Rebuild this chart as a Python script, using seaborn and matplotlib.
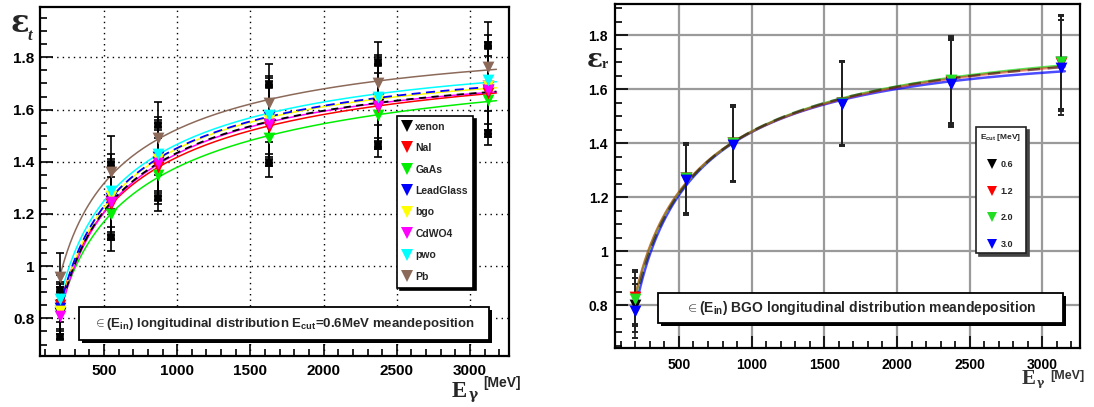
import numpy as np
import matplotlib
matplotlib.use("Agg")
import matplotlib.pyplot as plt
import seaborn as sns
from matplotlib.patches import Rectangle
from matplotlib.lines import Line2D
from matplotlib.ticker import MultipleLocator, FormatStrFormatter

# Photon energies (MeV)
energy = [200, 550, 870, 1625, 2370, 3125]

# Left panel: mean longitudinal deposition per material, E_cut = 0.6 MeV
materials = ["xenon", "NaI", "GaAs", "LeadGlass", "bgo", "CdWO4", "pwo", "Pb"]
material_colors = ["#000000", "#ff0000", "#00ee00", "#0000ff",
                   "#ffff00", "#ff00ff", "#00ffff", "#8c6a5a"]
eps_xenon = [0.82, 1.25, 1.40, 1.545, 1.62, 1.675]
eps_nai = [0.85, 1.24, 1.38, 1.535, 1.61, 1.665]
eps_gaas = [0.83, 1.20, 1.35, 1.49, 1.58, 1.635]
eps_leadglass = [0.84, 1.26, 1.42, 1.57, 1.64, 1.69]
eps_bgo = [0.83, 1.27, 1.41, 1.56, 1.635, 1.69]
eps_cdwo4 = [0.81, 1.245, 1.395, 1.545, 1.615, 1.675]
eps_pwo = [0.875, 1.29, 1.43, 1.58, 1.65, 1.715]
eps_pb = [0.96, 1.36, 1.49, 1.625, 1.70, 1.765]
err_materials = [0.09, 0.14, 0.14, 0.15, 0.16, 0.17]

# Right panel: BGO for several cut energies
ecut_labels = ["0.6", "1.2", "2.0", "3.0"]
ecut_colors = ["#000000", "#ff0000", "#22dd22", "#0000ff"]
eps_bgo_06 = [0.80, 1.27, 1.40, 1.55, 1.625, 1.70]
eps_bgo_12 = [0.83, 1.27, 1.40, 1.55, 1.63, 1.695]
eps_bgo_20 = [0.825, 1.27, 1.40, 1.55, 1.635, 1.70]
eps_bgo_30 = [0.78, 1.265, 1.395, 1.545, 1.62, 1.68]
err_bgo = [0.10, 0.13, 0.14, 0.155, 0.16, 0.175]

material_values = [eps_xenon, eps_nai, eps_gaas, eps_leadglass,
                   eps_bgo, eps_cdwo4, eps_pwo, eps_pb]
bgo_values = [eps_bgo_06, eps_bgo_12, eps_bgo_20, eps_bgo_30]

sns.set_style("white")
plt.rcParams["font.family"] = ["Liberation Sans", "DejaVu Sans"]
plt.rcParams["font.weight"] = "bold"
plt.rcParams["mathtext.fontset"] = "custom"
plt.rcParams["mathtext.rm"] = "Liberation Sans:bold"
plt.rcParams["mathtext.it"] = "Liberation Sans:bold"
plt.rcParams["mathtext.bf"] = "Liberation Sans:bold"

W, H = 1094, 407
fig = plt.figure(figsize=(W / 100, H / 100), dpi=100)
fig.patch.set_facecolor("white")


def px_axes(x0, y0, x1, y1):
    return fig.add_axes([x0 / W, 1 - y1 / H, (x1 - x0) / W, (y1 - y0) / H])


def log_fit(x, y, x_end):
    lx = np.log(np.asarray(x, float))
    coef = np.polyfit(lx, y, 2)
    xs = np.geomspace(x[0], x_end, 200)
    return xs, np.polyval(coef, np.log(xs))


def style_axes(ax, xlim, ylim, grid_kw, fs_x, fs_y, xpad, ypad):
    ax.set_xlim(*xlim)
    ax.set_ylim(*ylim)
    ax.xaxis.set_major_locator(MultipleLocator(500))
    ax.xaxis.set_minor_locator(MultipleLocator(100))
    ax.yaxis.set_major_locator(MultipleLocator(0.2))
    ax.yaxis.set_minor_locator(MultipleLocator(0.05))
    ax.xaxis.set_major_formatter(FormatStrFormatter("%d"))
    ax.yaxis.set_major_formatter(FormatStrFormatter("%g"))
    ax.tick_params(which="both", direction="in", top=False, right=False,
                   bottom=True, left=True, colors="black")
    ax.tick_params(axis="x", labelsize=fs_x, pad=xpad)
    ax.tick_params(axis="y", labelsize=fs_y, pad=ypad)
    ax.tick_params(which="major", length=9, width=1.2)
    ax.tick_params(which="minor", length=5, width=1.2)
    ax.grid(True, which="major", **grid_kw)
    ax.set_axisbelow(True)
    for s in ax.spines.values():
        s.set_visible(True)
        s.set_color("black")
        s.set_linewidth(1.6)
    for lab in ax.get_xticklabels() + ax.get_yticklabels():
        lab.set_fontweight("bold")
    ax.set_xlabel("")
    ax.set_ylabel("")


def shadow_box(ax, x0, y0, x1, y1, text, fs):
    tr = ax.transAxes
    ox, oy = 3 / (ax.bbox.width), 3 / (ax.bbox.height)
    ax.add_patch(Rectangle((x0 + ox, y0 - oy), x1 - x0, y1 - y0, transform=tr,
                           facecolor="black", edgecolor="none", zorder=8))
    ax.add_patch(Rectangle((x0, y0), x1 - x0, y1 - y0, transform=tr,
                           facecolor="white", edgecolor="black", lw=1.3, zorder=9))
    ax.text((x0 + x1) / 2, (y0 + y1) / 2, text, transform=tr, ha="center",
            va="center", fontsize=fs, fontweight="bold", zorder=10)


# ---------------- left panel ----------------
axL = px_axes(40, 7, 509, 356)
style_axes(axL, (63, 3266), (0.656, 1.993),
           dict(color="black", linestyle=(0, (1, 3)), linewidth=1.0),
           11, 11, 6, 4)

dashed = {"xenon": (0, (4, 3)), "LeadGlass": (0, (5, 3))}
order = [2, 1, 5, 4, 6, 7, 0, 3]
for i in order:
    name, col, vals = materials[i], material_colors[i], material_values[i]
    xs, ys = log_fit(energy, vals, 3180)
    sns.lineplot(x=xs, y=ys, ax=axL, color=col, lw=1.3 if name in dashed else 1.1,
                 linestyle=dashed.get(name, "-"), sort=False, estimator=None,
                 zorder=3)

for i, (name, col, vals) in enumerate(zip(materials, material_colors, material_values)):
    eb = axL.errorbar(energy, vals, yerr=err_materials, fmt="none", ecolor="black",
                      elinewidth=1.2, capsize=3, capthick=1.2, zorder=4)
    if name == "xenon":
        for cap in eb[1]:
            cap.set_marker("s")
            cap.set_markersize(4)
            cap.set_markerfacecolor("black")
for i in [0, 2, 1, 3, 4, 5, 6, 7]:
    sns.scatterplot(x=energy, y=material_values[i], ax=axL, marker="v", s=72,
                    color=material_colors[i], edgecolor=material_colors[i],
                    linewidth=0, legend=False, zorder=5)

handles = [Line2D([], [], marker="v", linestyle="none", markersize=9,
                  color=c, markeredgewidth=0) for c in material_colors]
legL = axL.legend(handles, materials, loc="upper left",
                  bbox_to_anchor=(0.761, 0.688), borderaxespad=0,
                  prop={"weight": "bold", "size": 7.5}, labelspacing=1.1,
                  handlelength=0.9, handletextpad=0.3, borderpad=0.55,
                  fancybox=False, edgecolor="black", framealpha=1,
                  shadow={"color": "black", "alpha": 1})
legL.get_frame().set_linewidth(1.2)
legL.set_zorder(7)

shadow_box(axL, 0.0832, 0.0458, 0.957, 0.1404,
           r"$\in$(E$_{\mathrm{in}}$) longitudinal distribution "
           r"E$_{\mathrm{cut}}$=0.6MeV meandeposition", 9.5)

fig.text(10 / W, 1 - 32 / H, "ε", fontsize=22, fontweight="bold",
         family="DejaVu Serif", ha="left", va="baseline")
fig.text(28 / W, 1 - 40 / H, "t", fontsize=12, style="italic",
         fontweight="bold", family="Liberation Serif", ha="left", va="baseline")
fig.text(452 / W, 1 - 397 / H, "E", fontsize=16.5, fontweight="bold",
         family="Liberation Serif", ha="left", va="baseline")
fig.text(469 / W, 1 - 399 / H, "γ", fontsize=10, fontweight="bold",
         family="DejaVu Serif", ha="left", va="baseline")
fig.text(483 / W, 1 - 387 / H, "[MeV]", fontsize=10, fontweight="bold",
         ha="left", va="baseline")

# ---------------- right panel ----------------
axR = px_axes(615, 4, 1080, 348)
style_axes(axR, (60, 3259), (0.642, 1.915),
           dict(color="#9a9a9a", linestyle="-", linewidth=1.6),
           10, 10, 7, 5)

line_alpha = [0.45, 0.45, 0.75, 0.7]
line_styles = [(0, (5, 3)), "-", "-", "-"]
for k in [3, 2, 1, 0]:
    xs, ys = log_fit(energy, bgo_values[k], 3155)
    sns.lineplot(x=xs, y=ys, ax=axR, color=ecut_colors[k], lw=1.8,
                 alpha=line_alpha[k], linestyle=line_styles[k], sort=False,
                 estimator=None, zorder=3)

for k in range(4):
    axR.errorbar(energy, bgo_values[k], yerr=err_bgo, fmt="none",
                 ecolor="#222222", elinewidth=1.2, capsize=2.5, capthick=1.4,
                 zorder=4)
for k in range(4):
    sns.scatterplot(x=energy, y=bgo_values[k], ax=axR, marker="v", s=72,
                    color=ecut_colors[k], edgecolor=ecut_colors[k],
                    linewidth=0, legend=False, zorder=5)

handlesR = [Line2D([], [], marker="v", linestyle="none", markersize=7,
                   color=c, markeredgewidth=0) for c in ecut_colors]
legR = axR.legend(handlesR, ecut_labels, loc="upper left",
                  bbox_to_anchor=(0.776, 0.6424), borderaxespad=0,
                  title=r"E$_{\mathrm{cut}}$ [MeV]",
                  title_fontproperties={"weight": "bold", "size": 6},
                  prop={"weight": "bold", "size": 6.5}, labelspacing=1.95,
                  handlelength=0.8, handletextpad=0.5, borderpad=0.5,
                  fancybox=False, edgecolor="#222222", framealpha=1,
                  shadow={"color": "#444444", "alpha": 1})
legR.get_frame().set_linewidth(1.2)
legR.set_zorder(7)

shadow_box(axR, 0.0925, 0.0727, 0.963, 0.160,
           r"$\in$(E$_{\mathrm{in}}$) BGO longitudinal distribution meandeposition",
           10)

fig.text(587 / W, 1 - 67 / H, "ε", fontsize=19, fontweight="bold",
         family="DejaVu Serif", ha="left", va="baseline", color="#222222")
fig.text(602 / W, 1 - 68 / H, "r", fontsize=10, fontweight="bold",
         family="Liberation Serif", ha="left", va="baseline", color="#222222")
fig.text(1022 / W, 1 - 384 / H, "E", fontsize=15, fontweight="bold",
         family="Liberation Serif", ha="left", va="baseline", color="#333333")
fig.text(1037 / W, 1 - 386 / H, "γ", fontsize=8, fontweight="bold",
         family="DejaVu Serif", ha="left", va="baseline", color="#333333")
fig.text(1050 / W, 1 - 379 / H, "[MeV]", fontsize=9, fontweight="bold",
         ha="left", va="baseline", color="#333333")

fig.savefig("out.png", dpi=100, facecolor="white")
